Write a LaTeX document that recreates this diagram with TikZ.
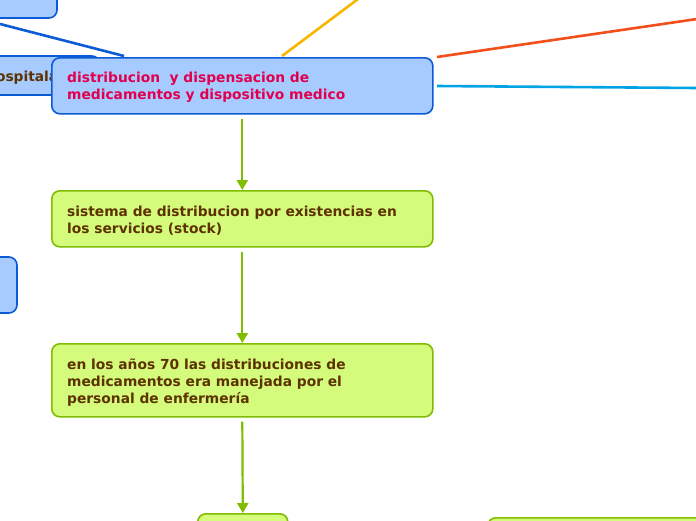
\documentclass[tikz,border=0pt]{standalone}
\usepackage{fontspec}
\setmainfont{DejaVu Sans}
\usetikzlibrary{arrows.meta}
\definecolor{bluefill}{HTML}{A8CBFF}
\definecolor{blueline}{HTML}{0B5BD6}
\definecolor{greenfill}{HTML}{D5FB7C}
\definecolor{greenline}{HTML}{80BC00}
\definecolor{browntext}{HTML}{5C3200}
\definecolor{redtext}{HTML}{E0004D}
\definecolor{yline}{HTML}{F7B500}
\definecolor{oline}{HTML}{F24F1B}
\definecolor{cline}{HTML}{00A4E4}
\tikzset{
  x=1pt,y=-1pt,
  bluebox/.style={draw=blueline,fill=bluefill,line width=1.6pt,rounded corners=8pt},
  greenbox/.style={draw=greenline,fill=greenfill,line width=1.6pt,rounded corners=8pt},
  txt/.style={font=\fontsize{13.8}{17}\selectfont\bfseries,align=left,anchor=base west,inner sep=0pt},
  garrow/.style={draw=greenline,line width=2.2pt,-{Triangle[length=10pt,width=11pt]}},
  conn/.style={line width=2.6pt},
}
\begin{document}
\begin{tikzpicture}
\useasboundingbox (0,0) rectangle (696,520);
\clip (0,0) rectangle (696,520);
% connectors to off-canvas
\coordinate (tlend) at (0,24);
\coordinate (yend) at (358,-1);
\coordinate (oend) at (697,19);
\coordinate (cend) at (697,88);
% top-left box
\draw[bluebox] (-40,-20) rectangle (57,18);
% hospital box
\draw[bluebox] (-60,56) rectangle (100,95);
\node[txt,text=browntext] (hosp) at (-14,81) {hospitalaria};
% left box
\draw[bluebox] (-40,257) rectangle (17,313);
% lines
\coordinate (mtop) at (124,56);
\draw[conn,blueline] (tlend) -- (mtop);
\coordinate (myel) at (282,56);
\draw[conn,yline] (myel) -- (yend);
\coordinate (mor) at (437,57);
\draw[conn,oline] (mor) -- (oend);
\coordinate (mcy) at (437,86);
\draw[conn,cline] (mcy) -- (cend);
% main node
\node[bluebox,minimum width=381pt,minimum height=56pt,anchor=north west,inner sep=0pt] (main) at (51,57) {};
\node[txt,text=redtext] (maint) at (67,99) {distribucion\ \ y dispensacion de\\medicamentos y dispositivo medico};
% box 2
\node[greenbox,minimum width=381pt,minimum height=56pt,anchor=north west,inner sep=0pt] (b2) at (51,190) {};
\node[txt,text=browntext] (b2t) at (67,233) {sistema de distribucion por existencias en\\los servicios (stock)};
% box 3
\node[greenbox,minimum width=381pt,minimum height=73pt,anchor=north west,inner sep=0pt] (b3) at (51,343) {};
\node[txt,text=browntext] (b3t) at (67,403) {en los años 70 las distribuciones de\\medicamentos era manejada por el\\personal de enfermería};
% box 4 and 5
\node[greenbox,minimum width=90pt,minimum height=40pt,anchor=north west,inner sep=0pt] (b4) at (197,513) {};
\node[greenbox,minimum width=230pt,minimum height=40pt,anchor=north west,inner sep=0pt] (b5) at (487,517) {};
% arrows
\draw[garrow] ([yshift=-4pt]main.south) -- (b2.north);
\draw[garrow] ([yshift=-4pt]b2.south) -- (b3.north);
\draw[garrow] ([yshift=-4pt]b3.south) -- (b4.north);
\end{tikzpicture}
\end{document}
